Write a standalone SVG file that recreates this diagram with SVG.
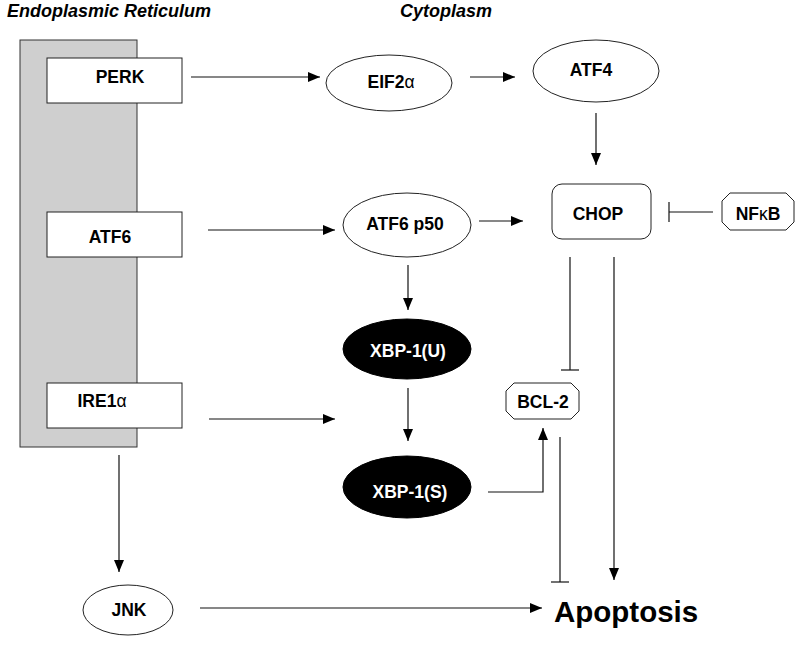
<svg xmlns="http://www.w3.org/2000/svg" width="800" height="650" viewBox="0 0 800 650">
<style>
  text { font-family: "Liberation Sans", Arial, sans-serif; font-weight: bold; fill: #000; }
  .lbl { font-size: 17.5px; text-anchor: middle; }
  .white { fill: #fff; }
  .title { font-size: 18px; font-style: italic; }
  .box { fill: #fff; stroke: #222; stroke-width: 1; }
  .dark { fill: #000; stroke: #000; stroke-width: 1; }
  .conn { stroke: #111; stroke-width: 1.2; fill: none; }
  .thin { font-weight: normal; }
</style>
<defs>
  <marker id="arr" markerUnits="userSpaceOnUse" markerWidth="12" markerHeight="10" refX="12" refY="5" orient="auto">
    <path d="M0,0 L12,5 L0,10 z" fill="#000"/>
  </marker>
</defs>
<rect width="800" height="650" fill="#fff"/>

<text class="title" x="7" y="17">Endoplasmic Reticulum</text>
<text class="title" x="400" y="17">Cytoplasm</text>

<g id="er">
  <rect x="20" y="40" width="117" height="407" fill="#cfcfcf" stroke="#333" stroke-width="1"/>
</g>

<g id="perk">
  <rect class="box" x="47" y="58" width="135" height="45"/>
  <text class="lbl" x="120" y="83">PERK</text>
</g>
<g id="atf6">
  <rect class="box" x="47" y="212" width="135" height="45"/>
  <text class="lbl" x="110" y="243">ATF6</text>
</g>
<g id="ire1a">
  <rect class="box" x="47" y="383" width="135" height="45"/>
  <text class="lbl" x="102" y="407">IRE1<tspan class="thin">α</tspan></text>
</g>

<g id="eif2a">
  <ellipse class="box" cx="389" cy="83" rx="63" ry="28"/>
  <text class="lbl" x="391" y="88">EIF2<tspan class="thin">α</tspan></text>
</g>
<g id="atf4">
  <ellipse class="box" cx="596" cy="71" rx="63" ry="31"/>
  <text class="lbl" x="591" y="76">ATF4</text>
</g>
<g id="chop">
  <rect class="box" x="552" y="184" width="99" height="55" rx="10" ry="10"/>
  <text class="lbl" x="598" y="220">CHOP</text>
</g>
<g id="nfkb">
  <polygon class="box" points="730,193 786,193 794,201 794,222 786,230 730,230 722,222 722,201"/>
  <text class="lbl" x="758" y="220">NF<tspan class="thin">κ</tspan>B</text>
</g>
<g id="atf6p50">
  <ellipse class="box" cx="407" cy="225" rx="64" ry="32"/>
  <text class="lbl" x="405" y="230">ATF6 p50</text>
</g>
<g id="xbp1u">
  <ellipse class="dark" cx="407" cy="349" rx="64" ry="30"/>
  <text class="lbl white" x="408" y="357">XBP-1(U)</text>
</g>
<g id="xbp1s">
  <ellipse class="dark" cx="407" cy="487" rx="64" ry="31"/>
  <text class="lbl white" x="410" y="498">XBP-1(S)</text>
</g>
<g id="bcl2">
  <polygon class="box" points="514,383 571,383 579,391 579,411 571,419 514,419 506,411 506,391"/>
  <text class="lbl" x="543" y="408">BCL-2</text>
</g>
<g id="jnk">
  <ellipse class="box" cx="128" cy="610" rx="45" ry="25"/>
  <text class="lbl" x="129" y="616">JNK</text>
</g>
<g id="apoptosis">
  <text x="554" y="622" style="font-size:29.5px">Apoptosis</text>
</g>

<g id="connectors">
  <line class="conn" x1="191" y1="77" x2="320" y2="77" marker-end="url(#arr)"/>
  <line class="conn" x1="470" y1="77" x2="515" y2="77" marker-end="url(#arr)"/>
  <line class="conn" x1="596" y1="113" x2="596" y2="165" marker-end="url(#arr)"/>
  <line class="conn" x1="208" y1="230" x2="335" y2="230" marker-end="url(#arr)"/>
  <line class="conn" x1="479" y1="221" x2="523" y2="221" marker-end="url(#arr)"/>
  <line class="conn" x1="408" y1="265" x2="408" y2="310" marker-end="url(#arr)"/>
  <line class="conn" x1="209" y1="419" x2="335" y2="419" marker-end="url(#arr)"/>
  <line class="conn" x1="408" y1="388" x2="408" y2="441" marker-end="url(#arr)"/>
  <path class="conn" d="M488,492 H543 V428" marker-end="url(#arr)"/>
  <line class="conn" x1="119" y1="455" x2="119" y2="572" marker-end="url(#arr)"/>
  <line class="conn" x1="200" y1="608" x2="542" y2="608" marker-end="url(#arr)"/>
  <line class="conn" x1="614" y1="257" x2="614" y2="580" marker-end="url(#arr)"/>
  <line class="conn" x1="713" y1="212" x2="669" y2="212"/>
  <line class="conn" x1="669" y1="202" x2="669" y2="222"/>
  <line class="conn" x1="570" y1="257" x2="570" y2="370"/>
  <line class="conn" x1="561" y1="370" x2="579" y2="370"/>
  <line class="conn" x1="560" y1="437" x2="560" y2="582"/>
  <line class="conn" x1="551" y1="582" x2="569" y2="582"/>
</g>
</svg>
